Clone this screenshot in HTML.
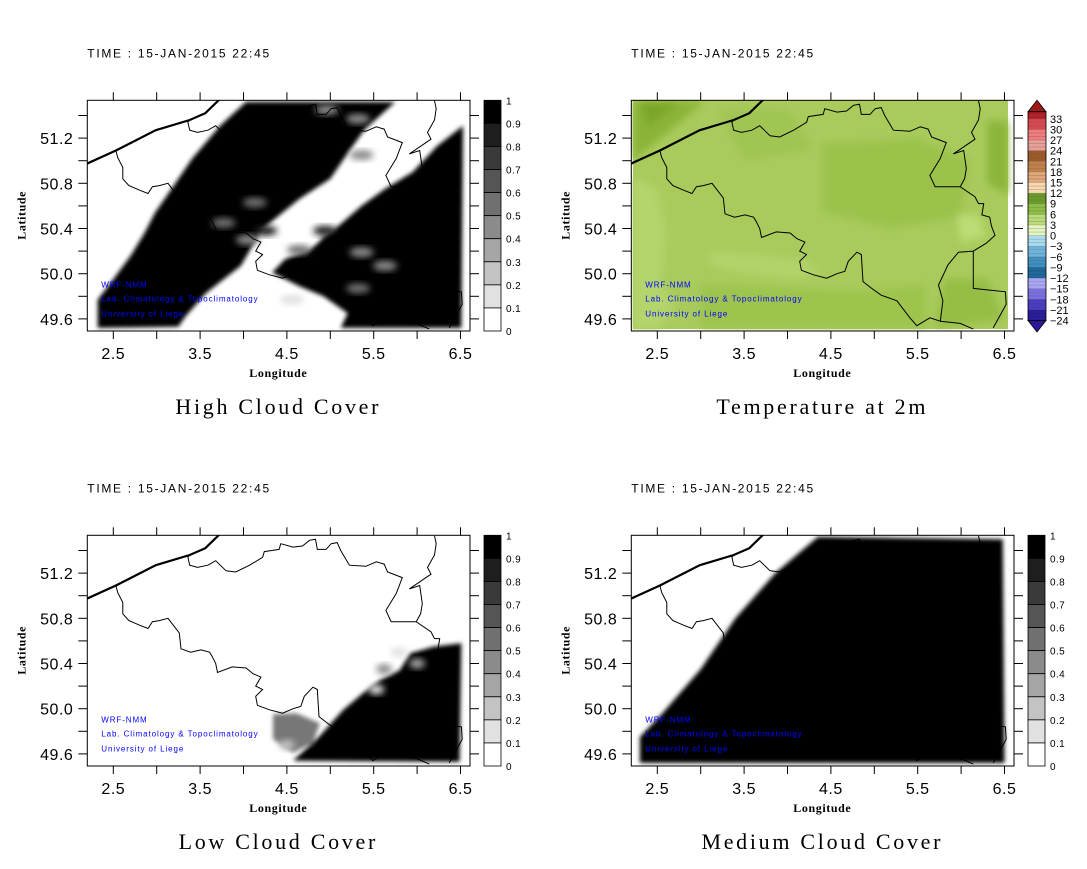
<!DOCTYPE html>
<html><head><meta charset="utf-8">
<style>
html,body{margin:0;padding:0;background:#fff;}
svg{display:block;font-family:"Liberation Sans",sans-serif;}
</style></head>
<body>
<svg id="fig" width="1087" height="869" viewBox="0 0 1087 869" xmlns="http://www.w3.org/2000/svg">
<defs>
<filter id="soft" x="-5%" y="-5%" width="110%" height="110%"><feGaussianBlur stdDeviation="2.2"/></filter>
<filter id="soft3" x="-30%" y="-30%" width="160%" height="160%"><feGaussianBlur stdDeviation="3.5"/></filter>
<filter id="soft2" x="-10%" y="-10%" width="120%" height="120%"><feGaussianBlur stdDeviation="4"/></filter>
</defs>
</svg>
<script>
// ---- axis data ----
const LON_LABELS=[2.5,3.5,4.5,5.5,6.5];
const LAT_LABELS=[49.6,50.0,50.4,50.8,51.2];
const LON_MINOR=[2.5,3.0,3.5,4.0,4.5,5.0,5.5,6.0,6.5];
const LAT_MINOR=[49.6,49.8,50.0,50.2,50.4,50.6,50.8,51.0,51.2,51.4];
const CLOUD_LEVELS=[1,0.9,0.8,0.7,0.6,0.5,0.4,0.3,0.2,0.1,0];
const CLOUD_COLORS=["#000000","#1e1e1e","#3a3a3a","#555555","#707070","#8b8b8b","#a6a6a6","#c3c3c3","#e1e1e1","#ffffff"];
const TEMP_LABELS=[33,30,27,24,21,18,15,12,9,6,3,0,-3,-6,-9,-12,-15,-18,-21,-24];
const TEMP_BAND_COLORS=["#2a1e9a","#4a3cc0","#7a6ee0","#aaa4f4","#1f6a9a","#3f8fc0","#6eb3dc","#a9dcf0","#e4f5c0","#bcdc7c","#8cbc42","#6a9a2a","#f8d8b0","#e0a878","#c08048","#9c5a28","#e8a098","#f07e7e","#d84850","#b01e2a"];
// ---- geography (lon, lat) ----
const COAST=[[2.185,50.97],[2.53,51.09],[2.99,51.27],[3.38,51.36],[3.56,51.42],[3.72,51.54]];
const BORDER_BE=[[3.38,51.36],[3.36,51.34],[3.38,51.27],[3.47,51.25],[3.59,51.27],[3.68,51.31],[3.80,51.22],[3.91,51.21],[4.07,51.27],[4.22,51.34],[4.24,51.39],[4.41,51.41],[4.43,51.46],[4.57,51.43],[4.68,51.44],[4.76,51.49],[4.83,51.50],[4.85,51.41],[4.95,51.41],[5.01,51.46],[5.08,51.47],[5.12,51.40],[5.22,51.27],[5.41,51.26],[5.53,51.30],[5.62,51.28],[5.66,51.21],[5.83,51.16],[5.76,51.02],[5.64,50.87],[5.70,50.77],[5.99,50.77],[6.16,50.68],[6.20,50.62],[6.26,50.62],[6.24,50.52],[6.33,50.50],[6.35,50.42],[6.39,50.34],[6.29,50.27],[6.14,50.20],[5.97,50.19],[5.85,50.08],[5.74,49.90],[5.79,49.76],[5.76,49.58],[5.64,49.61],[5.49,49.54],[5.41,49.61],[5.26,49.76],[5.08,49.81],[4.97,49.87],[4.87,49.93],[4.85,50.17],[4.80,50.19],[4.70,50.11],[4.66,50.02],[4.57,50.00],[4.45,49.96],[4.30,49.99],[4.16,50.03],[4.14,50.11],[4.22,50.17],[4.14,50.20],[4.20,50.28],[4.11,50.31],[4.03,50.36],[3.87,50.37],[3.70,50.32],[3.68,50.40],[3.64,50.46],[3.61,50.50],[3.51,50.52],[3.39,50.50],[3.28,50.53],[3.26,50.67],[3.18,50.75],[3.13,50.80],[3.03,50.78],[2.95,50.77],[2.90,50.71],[2.80,50.74],[2.68,50.78],[2.61,50.84],[2.61,50.94],[2.55,51.03],[2.53,51.09]];
const BORDER_NL_DE=[[6.20,51.53],[6.22,51.46],[6.20,51.36],[6.12,51.25],[6.16,51.19],[5.91,51.06],[6.03,51.09],[6.06,50.93],[6.04,50.84],[5.99,50.77]];
const BORDER_LUX=[[6.14,50.20],[6.14,49.87],[6.51,49.84],[6.52,49.73],[6.37,49.52]];
const BORDER_LUX_S=[[5.76,49.58],[5.99,49.56],[6.14,49.51]];
// ---- cloud fields ----
const HIGH_BLACK_NW=[[4.03,51.52],[5.75,51.52],[5.40,51.28],[5.24,51.11],[5.00,50.84],[4.64,50.66],[4.21,50.39],[3.97,50.07],[3.57,49.83],[3.33,49.62],[3.25,49.53],[2.32,49.52],[2.32,49.77],[2.50,49.95],[2.70,50.16],[2.86,50.36],[2.98,50.54],[3.17,50.75],[3.41,51.02],[3.73,51.31]];
const HIGH_BLACK_SE=[[6.53,51.31],[6.51,49.52],[5.12,49.52],[5.20,49.65],[4.92,49.80],[4.64,49.89],[4.33,50.01],[4.48,50.13],[4.76,50.21],[5.00,50.36],[5.36,50.60],[5.63,50.75],[5.95,50.90],[6.23,51.13]];
const HIGH_PATCH_LON=[4.13,3.77,4.25,4.05,4.64,4.94,5.04,5.36,5.63,5.32,4.96,5.32,4.56,5.36];
const HIGH_PATCH_LAT=[50.63,50.45,50.38,50.30,50.21,50.38,50.29,50.19,50.07,49.87,51.45,51.37,49.77,51.05];
const HIGH_PATCH_VAL=[0.6,0.55,0.8,0.45,0.6,0.8,0.9,0.45,0.45,0.55,0.5,0.5,0.2,0.45];
const LOW_BLACK=[[6.51,50.58],[6.49,49.53],[4.57,49.54],[4.88,49.76],[5.15,49.99],[5.38,50.14],[5.57,50.25],[5.80,50.34],[5.92,50.49],[6.19,50.55]];
const LOW_GRAY=[[4.34,49.95],[4.61,49.96],[4.88,49.87],[4.80,49.70],[4.57,49.61],[4.34,49.73]];
const LOW_PATCH_LON=[5.53,5.79,5.62,4.50,6.00];
const LOW_PATCH_LAT=[50.17,50.50,50.35,49.68,50.40];
const LOW_PATCH_VAL=[0.2,0.2,0.5,0.3,0.4];
const MED_BLACK=[[4.35,51.52],[6.48,51.50],[6.50,49.52],[2.30,49.52],[2.30,49.75],[2.55,49.95],[3.00,50.35],[3.40,50.80],[3.86,51.20],[4.35,51.52]];
// ---- temperature patches ----
const T_BASE="#a8cb5c";
const T_PATCHES=[
 {c:"#b4d46c",p:[[2.22,50.85],[2.5,50.75],[2.6,50.4],[2.55,49.9],[2.7,49.7],[2.5,49.51],[2.22,49.51]]},
 {c:"#b2d36a",p:[[3.1,50.2],[3.6,50.17],[4.2,50.12],[4.4,50.02],[4.1,49.95],[3.4,50.02],[3.1,50.08]]},
 {c:"#8bb337",p:[[2.22,51.53],[3.05,51.53],[2.7,51.3],[2.22,51.0]]},
 {c:"#7aa628",p:[[2.3,51.52],[2.75,51.52],[2.4,51.3]]},
 {c:"#9cc24c",p:[[4.4,51.15],[5.5,51.2],[6.1,51.0],[6.0,50.5],[5.2,50.4],[4.4,50.55]]},
 {c:"#9ec44e",p:[[3.0,49.9],[4.8,49.85],[5.6,49.9],[5.6,49.52],[3.0,49.52]]},
 {c:"#8cb53a",p:[[6.3,51.35],[6.54,51.35],[6.54,50.7],[6.3,50.8]]},
 {c:"#bcdc76",p:[[5.95,50.52],[6.2,50.52],[6.28,50.33],[6.0,50.28]]},
 {c:"#96bd45",p:[[5.8,49.95],[6.3,49.95],[6.5,49.6],[5.7,49.52]]},
 {c:"#a0c552",p:[[3.2,51.45],[4.0,51.45],[4.3,51.1],[3.5,51.0]]}
];

const NS="http://www.w3.org/2000/svg";
const svg=document.getElementById("fig");
function el(tag,attrs,parent){const e=document.createElementNS(NS,tag);for(const k in attrs)e.setAttribute(k,attrs[k]);(parent||svg).appendChild(e);return e;}
const BOX_W=382.7,BOX_H=230.7;

function makePanel(ox,oy,name){
  const g=el("g",{});
  
  
  const X=lon=>ox+26+(lon-2.5)*86.8;
  const Y=lat=>oy+15.2+(51.4-lat)*113;
  const pts=a=>a.map(p=>X(p[0]).toFixed(1)+","+Y(p[1]).toFixed(1)).join(" ");
  const cid="clip-"+name;
  const cp=el("clipPath",{id:cid},svg.querySelector("defs"));
  el("rect",{x:ox,y:oy,width:BOX_W,height:BOX_H},cp);
  const field=el("g",{"clip-path":"url(#"+cid+")"},g);
  
  
  return {g,field,X,Y,pts,ox,oy};
}
function drawAxes(P,name){
  const {g,X,Y,ox,oy}=P;
  const ax=el("g",{stroke:"#000","stroke-width":1,fill:"none"},g);
  
  
  LON_MINOR.forEach(v=>{
    const x=X(v).toFixed(1);
    el("line",{x1:x,x2:x,y1:oy-8,y2:oy},ax);
    el("line",{x1:x,x2:x,y1:oy+BOX_H,y2:oy+BOX_H+8},ax);
  });
  LAT_MINOR.forEach(v=>{
    const y=Y(v).toFixed(1);
    el("line",{x1:ox-9,x2:ox,y1:y,y2:y},ax);
    el("line",{x1:ox+BOX_W,x2:ox+BOX_W+9,y1:y,y2:y},ax);
  });
  el("rect",{x:ox,y:oy,width:BOX_W,height:BOX_H},ax);
  LON_LABELS.forEach(v=>{
    const t=el("text",{x:X(v),y:oy+BOX_H+28,"font-size":16,"text-anchor":"middle","letter-spacing":"0.5"},g);
    t.textContent=v.toFixed(1);
    
    
  });
  LAT_LABELS.forEach(v=>{
    const t=el("text",{x:ox-14,y:Y(v)+6,"font-size":16,"text-anchor":"end","letter-spacing":"0.5"},g);
    t.textContent=v.toFixed(1);
    
    
  });
  const xl=el("text",{x:ox+191,y:oy+BOX_H+46,"font-size":12,"font-weight":"bold","font-family":"Liberation Serif, serif","text-anchor":"middle","letter-spacing":"0.6"},g);
  xl.textContent="Longitude";
  
  
  const yl=el("text",{x:0,y:0,"font-size":12,"font-weight":"bold","font-family":"Liberation Serif, serif","text-anchor":"middle","letter-spacing":"0.6",transform:`translate(${ox-62},${oy+115}) rotate(-90)`},g);
  yl.textContent="Latitude";
  
  
  const tm=el("text",{x:ox,y:oy-43,"font-size":12,"letter-spacing":"1.7"},g);
  tm.textContent="TIME : 15-JAN-2015 22:45";
  
  
  const cr=el("g",{fill:"#0000ff","font-size":8,"letter-spacing":"0.9"},g);
  
  
  [["WRF-NMM",190],["Lab. Climatology & Topoclimatology",204],["University of Liege",219]].forEach(([s,dy])=>{
    const t=el("text",{x:ox+14,y:oy+dy-3},cr);t.textContent=s;
  });
}
function drawMap(P){
  const m=el("g",{fill:"none",stroke:"#000"},P.field);
  
  
  el("polyline",{points:P.pts(COAST),"stroke-width":2.2},m);
  [BORDER_BE,BORDER_NL_DE,BORDER_LUX,BORDER_LUX_S].forEach(b=>el("polyline",{points:P.pts(b),"stroke-width":1},m));
}
function grayOf(v){const i=Math.min(9,Math.max(0,Math.floor((1-v)*10)));return CLOUD_COLORS[i];}
function patches(P,lons,lats,vals,r){
  lons.forEach((lon,i)=>{
    const e=el("ellipse",{cx:P.X(lon),cy:P.Y(lats[i]),rx:r[0],ry:r[1],fill:grayOf(vals[i]),filter:"url(#soft3)"},P.field);
    
    
  });
}
function grayBar(ox,oy,name){
  const g=el("g",{},svg);
  
  
  const x=ox+BOX_W+14,w=17,h=BOX_H/10;
  CLOUD_COLORS.forEach((c,i)=>el("rect",{x:x,y:oy+i*h,width:w,height:h,fill:c,stroke:"#000","stroke-width":0.8},g));
  CLOUD_LEVELS.forEach((v,i)=>{
    const t=el("text",{x:x+w+5,y:oy+i*h+4,"font-size":10,"letter-spacing":"0.4"},g);
    t.textContent=String(v);
  });
}
function tempBar(ox,oy){
  const g=el("g",{},svg);
  
  
  const x=ox+BOX_W+14,w=18,top=oy+11.4,u=3.54,vmax=35,vmin=-24;
  const yv=v=>top+(vmax-v)*u;
  for(let v=vmin;v<vmax;v++){
    const c=TEMP_BAND_COLORS[Math.min(19,Math.floor((v+24)/3))];
    el("rect",{x:x,y:yv(v+1),width:w,height:u,fill:c},g);
    el("line",{x1:x,x2:x+w,y1:yv(v),y2:yv(v),stroke:"rgba(0,0,0,0.25)","stroke-width":0.6},g);
  }
  el("polygon",{points:`${x},${top} ${x+w},${top} ${x+w/2},${oy}`,fill:"#a01818",stroke:"#000","stroke-width":0.8},g);
  el("polygon",{points:`${x},${yv(vmin)} ${x+w},${yv(vmin)} ${x+w/2},${oy+BOX_H+1}`,fill:"#2a169a",stroke:"#000","stroke-width":0.8},g);
  el("rect",{x:x,y:top,width:w,height:yv(vmin)-top,fill:"none",stroke:"#000","stroke-width":0.8},g);
  TEMP_LABELS.forEach(v=>{
    const t=el("text",{x:x+w+4,y:yv(v)+4,"font-size":11},g);
    t.textContent=v<0?"\u2212"+(-v):String(v);
  });
}
function title(ox,oy,s){
  const t=el("text",{x:ox+191,y:oy+BOX_H+83,"font-size":22,"font-family":"Liberation Serif, serif","text-anchor":"middle","letter-spacing":"2.7"});
  t.textContent=s;
  
  
}

// Panel 1: High cloud
(function(){
  const P=makePanel(87.3,100.3,"high-cloud");
  const b=el("g",{filter:"url(#soft)"},P.field);
  el("polygon",{points:P.pts(HIGH_BLACK_NW),fill:"#000"},b);
  el("polygon",{points:P.pts(HIGH_BLACK_SE),fill:"#000"},b);
  patches(P,HIGH_PATCH_LON,HIGH_PATCH_LAT,HIGH_PATCH_VAL,[12,5]);
  drawMap(P);drawAxes(P,"high-cloud");grayBar(87.3,100.3,"high-cloud");title(87.3,100.3,"High Cloud Cover");
})();
// Panel 2: Temperature
(function(){
  const P=makePanel(631.3,100.3,"temperature");
  const f=el("g",{},P.field);
  el("rect",{x:P.X(2.22),y:P.Y(51.535),width:P.X(6.54)-P.X(2.22),height:P.Y(49.51)-P.Y(51.535),fill:T_BASE},f);
  const pg=el("g",{filter:"url(#soft2)"},f);
  T_PATCHES.forEach(t=>el("polygon",{points:P.pts(t.p),fill:t.c},pg));
  drawMap(P);drawAxes(P,"temperature");tempBar(631.3,100.3);title(631.3,100.3,"Temperature at 2m");
})();
// Panel 3: Low cloud
(function(){
  const P=makePanel(87.3,535.3,"low-cloud");
  const b=el("g",{filter:"url(#soft)"},P.field);
  el("polygon",{points:P.pts(LOW_GRAY),fill:"#777"},b);
  el("polygon",{points:P.pts(LOW_BLACK),fill:"#000"},b);
  patches(P,LOW_PATCH_LON,LOW_PATCH_LAT,LOW_PATCH_VAL,[8,5]);
  drawMap(P);drawAxes(P,"low-cloud");grayBar(87.3,535.3,"low-cloud");title(87.3,535.3,"Low Cloud Cover");
})();
// Panel 4: Medium cloud
(function(){
  const P=makePanel(631.3,535.3,"medium-cloud");
  const b=el("g",{filter:"url(#soft)"},P.field);
  el("polygon",{points:P.pts(MED_BLACK),fill:"#000"},b);
  drawMap(P);drawAxes(P,"medium-cloud");grayBar(631.3,535.3,"medium-cloud");title(631.3,535.3,"Medium Cloud Cover");
})();
</script>
</body></html>
